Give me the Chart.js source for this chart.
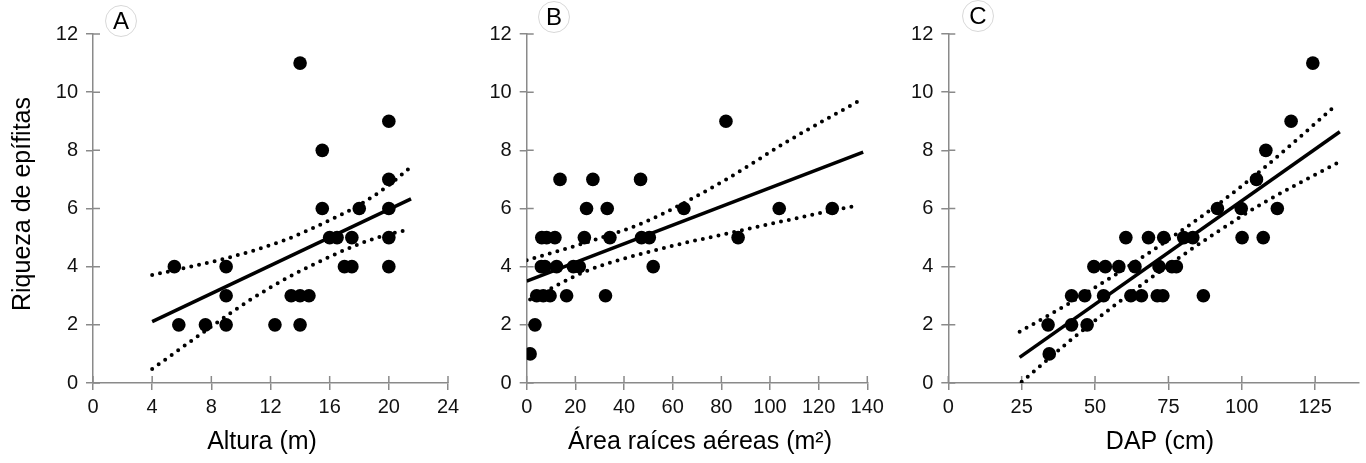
<!DOCTYPE html>
<html>
<head>
<meta charset="utf-8">
<script src="https://cdn.jsdelivr.net/npm/chart.js@4.4.1/dist/chart.umd.min.js"></script>
<style>
  body { margin: 0; background: #fff; width: 1366px; height: 463px; overflow: hidden; position: relative; }
  canvas { position: absolute; left: 0; top: 0; }
</style>
</head>
<body>
<canvas id="panelA" width="1366" height="463"></canvas>
<canvas id="panelB" width="1366" height="463"></canvas>
<canvas id="panelC" width="1366" height="463"></canvas>
<script>
// A: altura (m) vs riqueza
const altura = [5.5, 5.8, 7.6, 9, 9, 9, 12.3, 14, 13.4, 14, 14.6, 14, 15.5, 15.5, 16, 16.5, 17.5, 17, 17.5, 18, 20, 20, 20, 20, 20];
const riquezaA = [4, 2, 2, 4, 3, 2, 2, 11, 3, 3, 3, 2, 8, 6, 5, 5, 5, 4, 4, 6, 9, 7, 6, 5, 4];
const fitAX = [4, 21.5];
const fitAY = [2.11, 6.33];
const upAX = [4, 9, 13, 16, 18, 20, 21.3];
const upAY = [3.71, 4.29, 4.92, 5.6, 6.12, 6.8, 7.35];
const loAX = [4, 8, 10.6, 13.3, 16, 18, 20, 21.3];
const loAY = [0.48, 1.94, 2.85, 3.66, 4.34, 4.78, 5.12, 5.26];

// B: área raíces aéreas (m2) vs riqueza
const area = [1.4, 3.4, 4.1, 6.8, 9.6, 16.4, 32.4, 6, 7.5, 12.3, 19.2, 21.6, 52, 6.2, 8.2, 11.6, 23.7, 34.2, 47.2, 50.4, 86.9, 24.6, 33.1, 64.6, 103.8, 125.6, 13.7, 27.2, 46.8, 81.9];
const riquezaB = [1, 2, 3, 3, 3, 3, 3, 4, 4, 4, 4, 4, 4, 5, 5, 5, 5, 5, 5, 5, 5, 6, 6, 6, 6, 6, 7, 7, 7, 9];
const fitBX = [0, 138.3];
const fitBY = [3.5, 7.94];
const upBX = [0, 24, 49, 82, 107, 137];
const upBY = [4.22, 4.82, 5.55, 7.0, 8.3, 9.72];
const loBX = [1.4, 24.6, 52, 86.9, 125.6, 136.3];
const loBY = [2.87, 3.85, 4.55, 5.22, 5.93, 6.11];

// C: DAP (cm) vs riqueza
const dap = [34.4, 34, 42, 47.3, 42, 46.5, 52.9, 62.2, 65.8, 71.2, 73.1, 86.9, 49.6, 53.5, 58.1, 63.6, 71.8, 76.2, 77.7, 60.5, 68.2, 73.4, 80.2, 83.3, 100.1, 107.3, 91.7, 99.8, 112.1, 105, 108.2, 116.8, 124.2];
const riquezaC = [1, 2, 2, 2, 3, 3, 3, 3, 3, 3, 3, 3, 4, 4, 4, 4, 4, 4, 4, 5, 5, 5, 5, 5, 5, 5, 6, 6, 6, 7, 8, 9, 11];
const fitCX = [24.3, 133.4];
const fitCY = [0.88, 8.64];
const upCX = [24.3, 42, 60, 76, 92, 108, 131.7];
const upCY = [1.76, 2.79, 3.92, 5.0, 6.15, 7.43, 9.52];
const loCX = [25, 42, 60, 76, 92, 108, 133.4];
const loCY = [0.04, 1.5, 2.93, 4.12, 5.22, 6.23, 7.61];

const FONT = 'Liberation Sans, Arial, Helvetica, sans-serif';
const AXIS = '#8a8a8a';

const pts = (xs, ys) => xs.map((x, i) => ({ x: x, y: ys[i] }));

// ticks cross the axis line: draw the inner half
const tickIn = {
  id: 'tickIn',
  beforeDatasetsDraw(chart) {
    const ctx = chart.ctx, sx = chart.scales.x, sy = chart.scales.y;
    ctx.save();
    ctx.strokeStyle = AXIS;
    ctx.lineWidth = 1.5;
    ctx.beginPath();
    sx.ticks.forEach(t => {
      const px = sx.getPixelForValue(t.value);
      ctx.moveTo(px, sx.top); ctx.lineTo(px, sx.top - 7);
    });
    sy.ticks.forEach(t => {
      const py = sy.getPixelForValue(t.value);
      ctx.moveTo(sy.right, py); ctx.lineTo(sy.right + 7, py);
    });
    ctx.stroke();
    ctx.restore();
  }
};

// axis titles and panel letters
const notes = {
  id: 'notes',
  afterDraw(chart, args, opts) {
    const ctx = chart.ctx;
    ctx.save();
    (opts.circles || []).forEach(c => {
      ctx.beginPath();
      ctx.arc(c.x, c.y, 15.5, 0, Math.PI * 2);
      ctx.fillStyle = '#fff'; ctx.fill();
      ctx.strokeStyle = '#d8d8d8'; ctx.lineWidth = 1; ctx.stroke();
      ctx.fillStyle = '#000';
      ctx.font = '24px ' + FONT;
      ctx.textAlign = 'center'; ctx.textBaseline = 'middle';
      ctx.fillText(c.label, c.x, c.y + 1);
    });
    (opts.texts || []).forEach(t => {
      ctx.save();
      ctx.translate(t.x, t.y);
      if (t.rot) ctx.rotate(t.rot);
      ctx.fillStyle = '#000';
      ctx.font = '25px ' + FONT;
      ctx.textAlign = 'center'; ctx.textBaseline = 'middle';
      ctx.fillText(t.text, 0, 0);
      ctx.restore();
    });
    ctx.restore();
  }
};

function dotted(xs, ys) {
  return {
    data: pts(xs, ys), showLine: true, borderColor: '#000', borderWidth: 4,
    borderDash: [0, 8], borderCapStyle: 'round', cubicInterpolationMode: 'monotone',
    pointRadius: 0, pointHoverRadius: 0, order: 2
  };
}

function panel(id, p) {
  return new Chart(document.getElementById(id), {
    type: 'scatter',
    data: {
      datasets: [
        { data: pts(p.x, p.y), pointRadius: 6.8, pointHoverRadius: 6.8, backgroundColor: '#000', borderWidth: 0, order: 0 },
        { data: pts(p.fitX, p.fitY), showLine: true, borderColor: '#000', borderWidth: 3.5, pointRadius: 0, pointHoverRadius: 0, order: 1 },
        dotted(p.upX, p.upY),
        dotted(p.loX, p.loY)
      ]
    },
    options: {
      responsive: false,
      animation: false,
      events: [],
      layout: { padding: p.pad },
      plugins: { legend: { display: false }, tooltip: { enabled: false }, notes: p.notes },
      scales: {
        x: {
          type: 'linear', min: 0, max: p.xMax,
          ticks: { stepSize: p.xStep, includeBounds: false, color: '#111', padding: 5, maxRotation: 0, font: { family: FONT, size: 20 } },
          grid: { drawOnChartArea: false, tickLength: 7, color: AXIS, lineWidth: 1.5 },
          border: { color: AXIS, width: 1.5 },
          afterFit: s => { s.height = 40; }
        },
        y: {
          min: 0, max: 12,
          ticks: { stepSize: 2, color: '#111', padding: 8, font: { family: FONT, size: 20 } },
          grid: { drawOnChartArea: false, tickLength: 7, color: AXIS, lineWidth: 1.5 },
          border: { color: AXIS, width: 1.5 },
          afterFit: s => { s.width = 40; }
        }
      }
    },
    plugins: [tickIn, notes]
  });
}

panel('panelA', {
  x: altura, y: riquezaA, fitX: fitAX, fitY: fitAY, upX: upAX, upY: upAY, loX: loAX, loY: loAY,
  xMax: 24, xStep: 4,
  pad: { left: 53, top: 34, right: 918, bottom: 40 },
  notes: {
    circles: [{ x: 121, y: 21, label: 'A' }],
    texts: [
      { x: 23, y: 204, rot: -Math.PI / 2, text: 'Riqueza de epífitas' },
      { x: 262, y: 442, text: 'Altura (m)' }
    ]
  }
});

panel('panelB', {
  x: area, y: riquezaB, fitX: fitBX, fitY: fitBY, upX: upBX, upY: upBY, loX: loBX, loY: loBY,
  xMax: 140, xStep: 20,
  pad: { left: 486.7, top: 34, right: 498.7, bottom: 40 },
  notes: {
    circles: [{ x: 554, y: 17, label: 'B' }],
    texts: [{ x: 700, y: 442, text: 'Área raíces aéreas (m²)' }]
  }
});

panel('panelC', {
  x: dap, y: riquezaC, fitX: fitCX, fitY: fitCY, upX: upCX, upY: upCY, loX: loCX, loY: loCY,
  xMax: 140, xStep: 25,
  pad: { left: 908.3, top: 34, right: 1.3, bottom: 40 },
  notes: {
    circles: [{ x: 978, y: 16, label: 'C' }],
    texts: [{ x: 1160, y: 442, text: 'DAP (cm)' }]
  }
});
</script>
</body>
</html>
